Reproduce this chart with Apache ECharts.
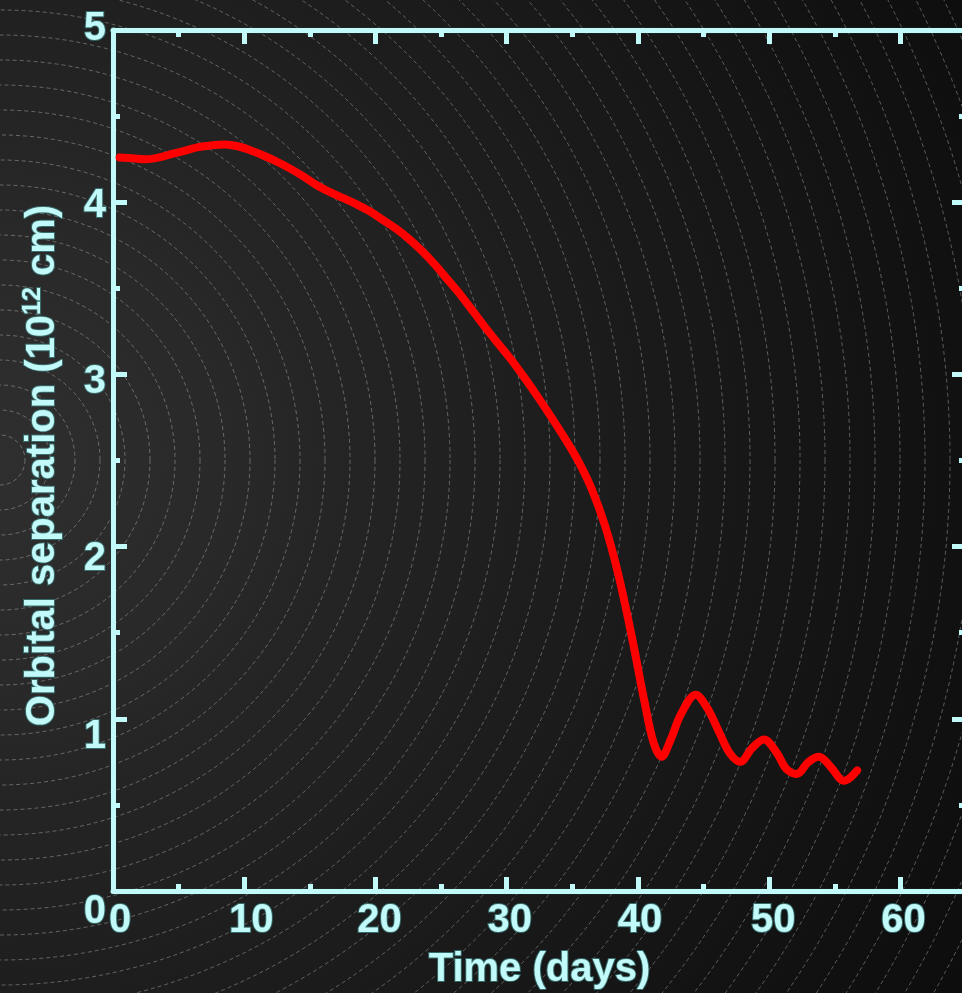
<!DOCTYPE html>
<html>
<head>
<meta charset="utf-8">
<title>Orbital separation vs time</title>
<script src="https://cdn.jsdelivr.net/npm/echarts@6/dist/echarts.min.js"></script>
<style>
  html, body { margin: 0; padding: 0; background: #161616; }
  #chart { width: 962px; height: 993px; }
</style>
</head>
<body>
<div id="chart"></div>
<script>
// Time in days and orbital separation in units of 1e12 cm
const days = [0.5, 1.5, 2.5, 3.5, 4.5, 5.5, 6.5, 7.5, 8.5, 9.5, 10.5, 11.5, 12.5, 13.5, 14.5,
  15.5, 16.5, 17.5, 18.5, 19.5, 20.5, 21.5, 22.5, 23.5, 24.5, 25.5, 26.5, 27.5, 28.5, 29.5,
  30.5, 31.5, 32.5, 33.5, 34.5, 35.5, 36.5, 37.5, 38.5, 39.5, 40.5, 41.2, 41.8, 42.5, 43.3,
  44.4, 45.3, 46.2, 47, 47.8, 48.7, 49.6, 50.6, 51.3, 52.1, 53, 53.8, 54.7, 55.7, 56.2, 56.7];
const separation = [4.26, 4.255, 4.25, 4.26, 4.28, 4.30, 4.32, 4.33, 4.335, 4.325, 4.30, 4.27, 4.235, 4.195, 4.15,
  4.10, 4.06, 4.025, 3.99, 3.95, 3.90, 3.85, 3.79, 3.72, 3.64, 3.55, 3.46, 3.36, 3.26, 3.165,
  3.07, 2.965, 2.855, 2.74, 2.62, 2.49, 2.33, 2.12, 1.84, 1.49, 1.10, 0.86, 0.78, 0.88, 1.03,
  1.14, 1.06, 0.92, 0.80, 0.75, 0.83, 0.88, 0.80, 0.71, 0.68, 0.75, 0.78, 0.72, 0.64, 0.66, 0.70];

const xTickLabels = ['0', '10', '20', '30', '40', '50', '60'];
const yTickLabels = ['0', '1', '2', '3', '4', '5'];

const X_MIN = 0, X_MAX = 65, Y_MIN = 0, Y_MAX = 5;

const AXIS_COLOR = '#c2f9f9';
const FONT = '"Liberation Sans", Arial, Helvetica, sans-serif';
const textBase = {
  color: AXIS_COLOR,
  fontFamily: FONT,
  fontWeight: 'bold',
  fontSize: 40,
  textBorderColor: 'rgba(60,120,120,0.85)',
  textBorderWidth: 2
};

// per-label nudges for tick text
const yLabelPad = { '5': [0, 0, 2, 0], '4': [8, 0, 0, 0], '3': [16, 0, 0, 0],
  '2': [24, 0, 0, 0], '1': [36, 0, 0, 0], '0': [42, 0, 0, 0] };
const xLabelPad = { '0': [0, 0, 0, 14], '10': [0, 0, 0, 14], '20': [0, 0, 0, 8],
  '30': [0, 0, 0, 6], '40': [0, 0, 0, 4], '50': [0, 0, 0, 8], '60': [0, 0, 0, 6] };

const yRich = {};
yTickLabels.forEach(l => { yRich['y' + l] = Object.assign({}, textBase, { padding: yLabelPad[l] }); });
const xRich = {};
xTickLabels.forEach(l => { xRich['x' + l] = Object.assign({}, textBase, { padding: xLabelPad[l] }); });

const lineStyle = { color: AXIS_COLOR, width: 5, shadowColor: 'rgba(30,70,70,0.8)', shadowBlur: 2 };

function xAxisDef(position, major, withLabels) {
  return {
    type: 'value', position: position, min: X_MIN, max: X_MAX,
    interval: major ? 10 : 5,
    axisLine: { show: major, onZero: false, lineStyle: lineStyle },
    axisTick: { show: true, inside: true, length: major ? 14 : 7, lineStyle: { color: AXIS_COLOR, width: 5 } },
    splitLine: { show: false },
    axisLabel: withLabels ? {
      show: true, margin: 10, showMaxLabel: false,
      formatter: v => xTickLabels.indexOf(String(v)) >= 0 ? '{x' + v + '|' + v + '}' : ' ',
      rich: xRich
    } : { show: false },
    name: withLabels ? 'Time (days)' : '',
    nameLocation: 'middle',
    nameGap: 59,
    nameTextStyle: textBase
  };
}

function yAxisDef(position, withLabels) {
  return {
    type: 'value', position: position, min: Y_MIN, max: Y_MAX, interval: 1,
    axisLine: { show: true, onZero: false, lineStyle: lineStyle },
    axisTick: { show: true, inside: true, length: 14, lineStyle: { color: AXIS_COLOR, width: 5 } },
    minorTick: { show: true, splitNumber: 2, length: 7, lineStyle: { color: AXIS_COLOR, width: 5 } },
    splitLine: { show: false },
    axisLabel: withLabels ? {
      show: true, margin: 7,
      formatter: v => '{y' + v + '|' + v + '}',
      rich: yRich
    } : { show: false },
    name: withLabels ? '{a|Orbital separation (10}{s|12}{a| cm)}' : '',
    nameLocation: 'middle',
    nameGap: 48,
    nameTextStyle: Object.assign({}, textBase, {
      padding: [0, 10, 0, 0],
      rich: {
        a: Object.assign({}, textBase, { fontSize: 40, lineHeight: 44 }),
        s: Object.assign({}, textBase, { fontSize: 25, verticalAlign: 'top', lineHeight: 44 })
      }
    })
  };
}

// concentric dashed rings in the backdrop
const RING_CX = 0, RING_CY = 460, RING_STEP = 25;
const rings = [];
for (let r = RING_STEP; r <= 1150; r += RING_STEP) {
  rings.push({
    type: 'circle', silent: true, z: -9,
    shape: { cx: RING_CX, cy: RING_CY, r: r },
    style: { fill: null, stroke: 'rgba(200,200,200,0.45)', lineWidth: 0.9, lineDash: [4, 3] }
  });
}

const chart = echarts.init(document.getElementById('chart'), null, { renderer: 'canvas' });
chart.setOption({
  animation: false,
  backgroundColor: '#161616',
  graphic: [
    {
      type: 'rect', silent: true, z: -10,
      shape: { x: 0, y: 0, width: 962, height: 993 },
      style: {
        fill: new echarts.graphic.RadialGradient(RING_CX, RING_CY, 1100, [
          { offset: 0, color: '#2f2f2f' },
          { offset: 0.2, color: '#292929' },
          { offset: 0.45, color: '#1f1f1f' },
          { offset: 0.8, color: '#131313' },
          { offset: 1, color: '#0d0d0d' }
        ], true)
      }
    }
  ].concat(rings),
  grid: { left: 113, top: 30, width: 853, height: 861, containLabel: false, outerBoundsMode: 'none' },
  xAxis: [
    xAxisDef('bottom', true, true),
    xAxisDef('bottom', false, false),
    xAxisDef('top', true, false),
    xAxisDef('top', false, false)
  ],
  yAxis: [
    yAxisDef('left', true),
    yAxisDef('right', false)
  ],
  series: [{
    type: 'line',
    xAxisIndex: 0, yAxisIndex: 0,
    data: days.map((d, i) => [d, separation[i]]),
    smooth: 0.35,
    showSymbol: false,
    lineStyle: { color: '#ff0000', width: 8, cap: 'round', join: 'round' },
    z: 5
  }]
});
</script>
</body>
</html>
